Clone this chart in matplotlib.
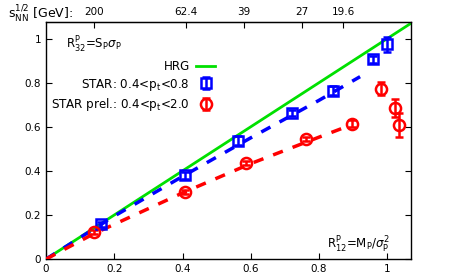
import matplotlib.pyplot as plt
import numpy as np

# HRG reference line
hrg_x = [0, 1.07]
hrg_y = [0, 1.07]

# STAR 0.4<pt<0.8
star_x = [0.161, 0.408, 0.563, 0.72, 0.842, 0.959, 1.0]
star_y = [0.157, 0.38, 0.536, 0.663, 0.764, 0.905, 0.973]
star_err = [0.012, 0.015, 0.02, 0.015, 0.02, 0.015, 0.036]

# STAR prel. 0.4<pt<2.0
prel_x = [0.141, 0.408, 0.587, 0.762, 0.897, 0.98, 1.023, 1.035]
prel_y = [0.123, 0.305, 0.436, 0.545, 0.614, 0.773, 0.686, 0.609]
prel_err = [0.01, 0.01, 0.01, 0.01, 0.015, 0.03, 0.04, 0.055]

# dashed fit curves
fit_blue_x = [0, 0.2, 0.4, 0.6, 0.8, 0.92]
fit_blue_y = [0, 0.195, 0.375, 0.55, 0.72, 0.827]
fit_red_x = [0, 0.14, 0.4, 0.6, 0.8, 0.88]
fit_red_y = [0, 0.115, 0.30, 0.433, 0.553, 0.60]

# top axis: collision energies
top_pos = [0.141, 0.41, 0.58, 0.75, 0.87]
top_lab = ['200', '62.4', '39', '27', '19.6']

fig = plt.figure(figsize=(4.63, 2.78), dpi=100)
ax = fig.add_axes([0.0994, 0.068, 0.7889, 0.853])

ax.plot(hrg_x, hrg_y, color='#00e000', lw=2, label='HRG', zorder=2)
ax.plot(fit_blue_x, fit_blue_y, color='#0000ff', lw=2.5, ls=(0, (3, 3)), zorder=3)
ax.plot(fit_red_x, fit_red_y, color='#ff0000', lw=2.5, ls=(0, (3, 3)), zorder=3)

ax.errorbar(star_x, star_y, yerr=star_err, fmt='s', color='#0000ff', mfc='none',
            mec='#0000ff', ms=7, mew=1.8, elinewidth=1.8, capsize=3, capthick=1.8,
            label=r'STAR: 0.4<p$_{\rm t}$<0.8', zorder=4)
ax.errorbar(prel_x, prel_y, yerr=prel_err, fmt='o', color='#ff0000', mfc='none',
            mec='#ff0000', ms=8, mew=1.8, elinewidth=1.8, capsize=3, capthick=1.8,
            label=r'STAR prel.: 0.4<p$_{\rm t}$<2.0', zorder=4)

ax.set_xlim(0, 1.07)
ax.set_ylim(0, 1.075)
ax.set_xticks(np.arange(0, 1.01, 0.2))
ax.set_xticklabels(['0', '0.2', '0.4', '0.6', '0.8', '1'])
ax.set_yticks(np.arange(0, 1.01, 0.2))
ax.set_yticklabels(['0', '0.2', '0.4', '0.6', '0.8', '1'])
ax.tick_params(direction='in', labelsize=7.5, length=4, right=True)

sec = ax.secondary_xaxis('top')
sec.set_ticks(top_pos)
sec.set_xticklabels(top_lab)
sec.tick_params(direction='in', labelsize=7.5, length=4)

fig.text(0.018, 0.952, r'$\mathregular{s_{NN}^{1/2}}$ [GeV]:', fontsize=9, va='center')

ax.text(0.055, 0.905, r'R$^{\rm P}_{\rm 32}$=S$_{\rm P}\sigma_{\rm P}$', transform=ax.transAxes,
        fontsize=8.5, va='center')
ax.text(0.942, 0.058, r'R$^{\rm P}_{\rm 12}$=M$_{\rm P}$/$\sigma^2_{\rm P}$', transform=ax.transAxes,
        fontsize=8.5, ha='right', va='center')

ax.legend(loc='upper left', bbox_to_anchor=(-0.005, 0.87), frameon=False, markerfirst=False,
          fontsize=8.6, handlelength=1.6, handletextpad=0.5, borderaxespad=0.2,
          labelspacing=0.3)

for s in ax.spines.values():
    s.set_linewidth(1)

fig.savefig('out.png', dpi=100)
